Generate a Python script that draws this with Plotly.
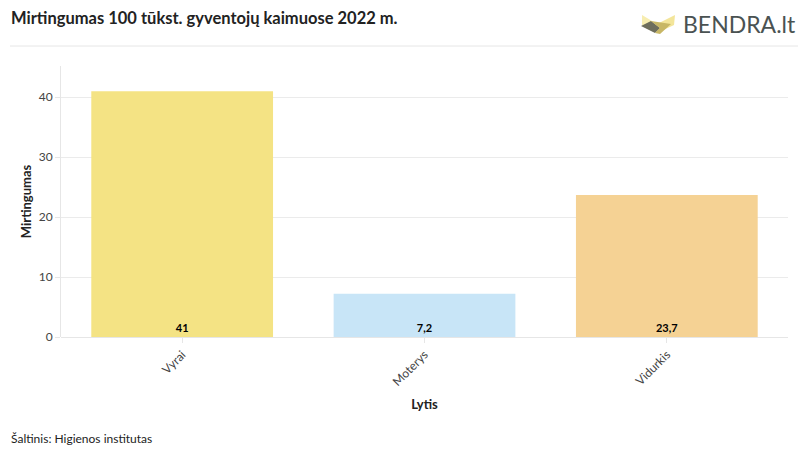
import plotly.graph_objects as go

categories = ["Vyrai", "Moterys", "Vidurkis"]
values = [41, 7.2, 23.7]
bar_colors = ["#F4E384", "#C8E5F7", "#F5D294"]
title_text = "Mirtingumas 100 tūkst. gyventojų kaimuose 2022 m."
source_text = "Šaltinis: Higienos institutas"

W, H = 808, 455
L, R, T, B = 61, 20, 66, 118
PW, PH = W - L - R, H - T - B

def px(x):
    return (x - L) / PW

def py(y):
    return (H - B - y) / PH

FONT = "Lato, 'Noto Sans', sans-serif"

fig = go.Figure(go.Bar(
    x=categories, y=values,
    marker=dict(color=bar_colors, line=dict(width=0)),
    text=[str(v).replace(".", ",") for v in values],
    textposition="inside", insidetextanchor="start",
    textfont=dict(family=FONT, size=11, color="#000000", weight="bold"),
    textangle=0,
    hoverinfo="x+y",
))

shapes = [
    dict(type="line", xref="paper", yref="paper", x0=px(10), x1=px(798), y0=py(46), y1=py(46),
         line=dict(color="#E6E6E6", width=1)),
    # logo
    dict(type="path", xref="paper", yref="paper",
         path=f"M {px(642)},{py(15)} L {px(657)},{py(24)} L {px(657)},{py(33)} L {px(642)},{py(25)} Z",
         fillcolor="#F7EDB0", line=dict(width=0)),
    dict(type="path", xref="paper", yref="paper",
         path=f"M {px(675)},{py(15)} L {px(657)},{py(24)} L {px(657)},{py(33)} L {px(674)},{py(25)} Z",
         fillcolor="#F3E59A", line=dict(width=0)),
    dict(type="path", xref="paper", yref="paper",
         path=f"M {px(641)},{py(26)} L {px(651)},{py(21)} L {px(660)},{py(28)} L {px(655)},{py(33)} Z",
         fillcolor="#6E6E5C", line=dict(width=0)),
    dict(type="path", xref="paper", yref="paper",
         path=f"M {px(651)},{py(21)} L {px(671)},{py(24)} L {px(660)},{py(34)} L {px(655)},{py(33)} L {px(660)},{py(28)} Z",
         fillcolor="#C8B766", line=dict(width=0)),
]

annotations = [
    dict(text=f"<b>{title_text}</b>", xref="paper", yref="paper", x=px(9), y=py(18),
         xanchor="left", yanchor="middle", showarrow=False,
         font=dict(family=FONT, size=16.5, color="#222222")),
    dict(text="BENDRA.lt", xref="paper", yref="paper", x=px(681), y=py(24),
         xanchor="left", yanchor="middle", showarrow=False,
         font=dict(family=FONT, size=23, color="#4A5252")),
    dict(text=source_text, xref="paper", yref="paper", x=px(9), y=py(438),
         xanchor="left", yanchor="middle", showarrow=False,
         font=dict(family=FONT, size=12, color="#222222")),
]

fig.update_layout(
    width=W, height=H,
    margin=dict(l=L, r=R, t=T, b=B, pad=0),
    paper_bgcolor="white", plot_bgcolor="white",
    separators=",.",
    bargap=0.25,
    showlegend=False,
    font=dict(family=FONT, size=12, color="#444444"),
    shapes=shapes,
    annotations=annotations,
    xaxis=dict(
        tickangle=-45, ticks="outside", ticklen=5, tickcolor="#E6E6E6",
        tickfont=dict(family=FONT, size=12, color="#444444"),
        title=dict(text="<b>Lytis</b>", font=dict(family=FONT, size=13, color="#222222"), standoff=12),
        showline=False, showgrid=False, zeroline=False,
    ),
    yaxis=dict(
        range=[0, 45.2], dtick=10,
        ticks="outside", ticklen=5, tickcolor="#E6E6E6",
        tickfont=dict(family=FONT, size=12, color="#444444"),
        title=dict(text="<b>Mirtingumas</b>", font=dict(family=FONT, size=13, color="#222222"), standoff=4),
        showgrid=True, gridcolor="#EBEBEB", gridwidth=1,
        showline=True, linecolor="#E6E6E6", linewidth=1,
        zeroline=True, zerolinecolor="#E6E6E6", zerolinewidth=1,
    ),
)

fig.write_html("out.html", config={"displayModeBar": False},
               post_script="document.body.style.margin='0';document.body.style.overflow='hidden';")
